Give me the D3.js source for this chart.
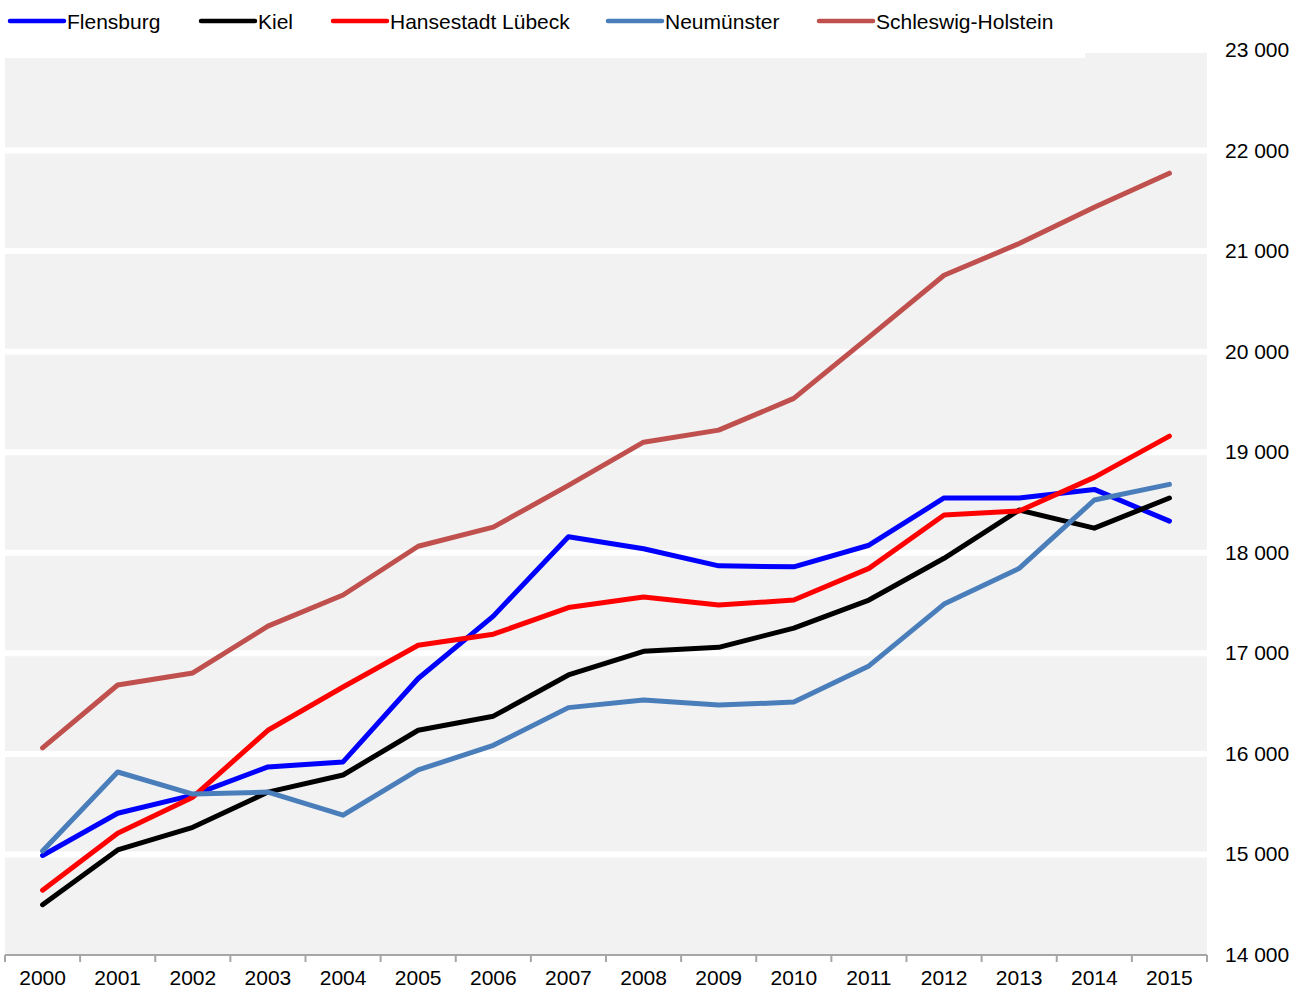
<!DOCTYPE html>
<html>
<head>
<meta charset="utf-8">
<script src="https://cdn.jsdelivr.net/npm/d3@7"></script>
<style>
  body { margin: 0; background: #fff; }
  svg { display: block; font-family: "Liberation Sans", Arial, sans-serif; }
</style>
</head>
<body>
<script>
// years along the bottom
const years = ["2000","2001","2002","2003","2004","2005","2006","2007","2008","2009","2010","2011","2012","2013","2014","2015"];

// series values
const flensburg = [14990, 15410, 15590, 15870, 15920, 16750, 17370, 18160, 18040, 17870, 17860, 18075, 18545, 18545, 18630, 18315];
const kiel = [14500, 15045, 15270, 15620, 15790, 16235, 16375, 16785, 17020, 17060, 17250, 17530, 17945, 18425, 18245, 18545];
const luebeck = [14645, 15210, 15570, 16235, 16665, 17080, 17190, 17455, 17560, 17480, 17530, 17845, 18375, 18415, 18750, 19160];
const neumuenster = [15035, 15820, 15600, 15620, 15390, 15840, 16085, 16460, 16535, 16485, 16515, 16875, 17490, 17845, 18525, 18680];
const schleswigHolstein = [16060, 16685, 16805, 17270, 17580, 18065, 18255, 18670, 19100, 19220, 19535, 20145, 20760, 21075, 21435, 21775];

const seriesNames = ["Flensburg", "Kiel", "Hansestadt Lübeck", "Neumünster", "Schleswig-Holstein"];
const seriesColors = ["#0000ff", "#000000", "#ff0000", "#4a7ebb", "#c0504d"];
const yTicks = [14000, 15000, 16000, 17000, 18000, 19000, 20000, 21000, 22000, 23000];

const series = [flensburg, kiel, luebeck, neumuenster, schleswigHolstein].map((v, i) => ({
  name: seriesNames[i], color: seriesColors[i], values: v
}));

const width = 1292, height = 989;
const plotLeft = 5, plotRight = 1207, plotTop = 50, plotBottom = 955;
const fontSize = 21;

const svg = d3.select("body").append("svg")
  .attr("width", width)
  .attr("height", height);

const x = d3.scaleBand().domain(years).range([plotLeft, plotRight]);
const y = d3.scaleLinear().domain([14000, 23000]).range([plotBottom, plotTop]);

const fmt = d3.formatLocale({ decimal: ",", thousands: "\u00a0", grouping: [3], currency: ["", "€"] }).format(",d");

// plot background
svg.append("rect")
  .attr("x", plotLeft).attr("y", plotTop - 3)
  .attr("width", plotRight - plotLeft).attr("height", plotBottom - plotTop + 3)
  .attr("fill", "#f2f2f2");

// white gridlines
svg.append("g").selectAll("line")
  .data(yTicks.filter(d => d > 14000))
  .join("line")
  .attr("x1", plotLeft).attr("x2", plotRight)
  .attr("y1", d => y(d)).attr("y2", d => y(d))
  .attr("stroke", "#fff")
  .attr("stroke-width", 6);

// bottom axis
const xAxis = svg.append("g")
  .attr("transform", `translate(0,${plotBottom})`);
xAxis.append("line")
  .attr("x1", plotLeft).attr("x2", plotRight)
  .attr("stroke", "#a6a6a6").attr("stroke-width", 2);
xAxis.selectAll(".tick")
  .data(years.concat(["end"]))
  .join("line")
  .attr("class", "tick")
  .attr("x1", (d, i) => i < years.length ? x(d) : plotRight)
  .attr("x2", (d, i) => i < years.length ? x(d) : plotRight)
  .attr("y1", 0).attr("y2", 7)
  .attr("stroke", "#a6a6a6").attr("stroke-width", 2);
xAxis.selectAll("text")
  .data(years)
  .join("text")
  .attr("x", d => x(d) + x.bandwidth() / 2)
  .attr("y", 30)
  .attr("text-anchor", "middle")
  .attr("font-size", fontSize)
  .text(d => d);

// right side value labels
svg.append("g").selectAll("text")
  .data(yTicks)
  .join("text")
  .attr("x", 1225)
  .attr("y", d => y(d) + 7)
  .attr("font-size", fontSize)
  .text(d => fmt(d));

// lines
const line = d3.line()
  .x((d, i) => x(years[i]) + x.bandwidth() / 2)
  .y(d => y(d));

svg.append("g").selectAll("path")
  .data(series)
  .join("path")
  .attr("d", d => line(d.values))
  .attr("fill", "none")
  .attr("stroke", d => d.color)
  .attr("stroke-width", 5)
  .attr("stroke-linejoin", "round")
  .attr("stroke-linecap", "round");

// legend box over top of the plot
svg.append("rect")
  .attr("x", 0).attr("y", 0)
  .attr("width", 1085).attr("height", 58)
  .attr("fill", "#fff");

const legendX = [10, 201, 333, 608, 819];
const legend = svg.append("g").selectAll("g")
  .data(series)
  .join("g")
  .attr("transform", (d, i) => `translate(${legendX[i]},21)`);
legend.append("line")
  .attr("x1", 0).attr("x2", 54)
  .attr("stroke", d => d.color)
  .attr("stroke-width", 4.5)
  .attr("stroke-linecap", "round");
legend.append("text")
  .attr("x", 57).attr("y", 8)
  .attr("font-size", fontSize)
  .text(d => d.name);
</script>
</body>
</html>
